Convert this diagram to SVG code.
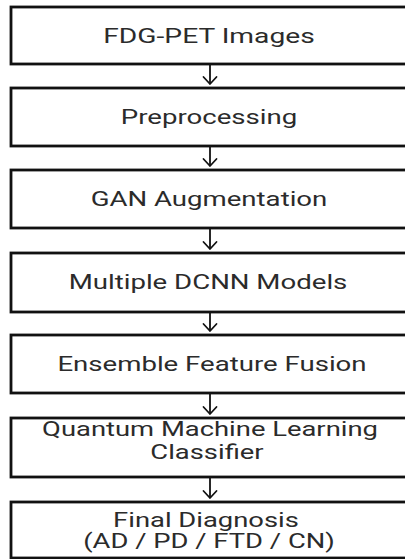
<svg xmlns="http://www.w3.org/2000/svg" width="405" height="559" viewBox="0 0 405 559">
  <defs>
    <style>
      .box { fill: #ffffff; stroke: #111111; stroke-width: 2.8; }
      .label { font-family: Roboto, "Liberation Sans", sans-serif; font-size: 20px; fill: #2b2b2b; text-anchor: middle; }
      .link { stroke: #111111; stroke-width: 1.8; fill: none; }
      .head { stroke: #111111; stroke-width: 1.8; fill: none; stroke-linecap: round; stroke-linejoin: round; }
    </style>
    <!-- open chevron head, drawn pointing along +x so orient="auto" turns it downward -->
    <marker id="chevron" markerUnits="userSpaceOnUse" markerWidth="12" markerHeight="18" refX="9" refY="8" orient="auto" viewBox="0 0 12 16">
      <path d="M2,1.5 L9,8 L2,14.5" class="head"/>
    </marker>
  </defs>
  <rect width="405" height="559" fill="#ffffff"/>

  <!-- pipeline stages; labels use a horizontally widened face -->
  <g id="node-fdg-pet">
    <rect class="box" x="11" y="7" width="420" height="57"/>
    <text class="label" transform="translate(209 42.5) scale(1.41 1)">FDG-PET Images</text>
  </g>
  <g id="node-preprocessing">
    <rect class="box" x="11" y="88" width="420" height="58"/>
    <text class="label" transform="translate(209 124) scale(1.38 1)">Preprocessing</text>
  </g>
  <g id="node-gan">
    <rect class="box" x="11" y="170" width="420" height="58"/>
    <text class="label" transform="translate(209 206) scale(1.38 1)">GAN Augmentation</text>
  </g>
  <g id="node-dcnn">
    <rect class="box" x="11" y="253" width="420" height="59"/>
    <text class="label" transform="translate(208 289) scale(1.38 1)">Multiple DCNN Models</text>
  </g>
  <g id="node-fusion">
    <rect class="box" x="11" y="335" width="420" height="58"/>
    <text class="label" transform="translate(212 371) scale(1.38 1)">Ensemble Feature Fusion</text>
  </g>
  <g id="node-qml">
    <rect class="box" x="11" y="418" width="420" height="59"/>
    <text class="label" transform="translate(210 436) scale(1.37 1)">Quantum Machine Learning</text>
    <text class="label" transform="translate(207 458.5) scale(1.37 1)">Classifier</text>
  </g>
  <g id="node-diagnosis">
    <rect class="box" x="11" y="502" width="420" height="56"/>
    <text class="label" transform="translate(206 527) scale(1.37 1)">Final Diagnosis</text>
    <text class="label" transform="translate(209 548) scale(1.37 1)">(AD / PD / FTD / CN)</text>
  </g>

  <!-- connectors -->
  <g id="connectors">
    <path class="link" d="M210,65 V84" marker-end="url(#chevron)"/>
    <path class="link" d="M210,147 V166" marker-end="url(#chevron)"/>
    <path class="link" d="M210,229 V249" marker-end="url(#chevron)"/>
    <path class="link" d="M210,313 V331" marker-end="url(#chevron)"/>
    <path class="link" d="M210,394 V414" marker-end="url(#chevron)"/>
    <path class="link" d="M210,478 V498" marker-end="url(#chevron)"/>
  </g>
</svg>
